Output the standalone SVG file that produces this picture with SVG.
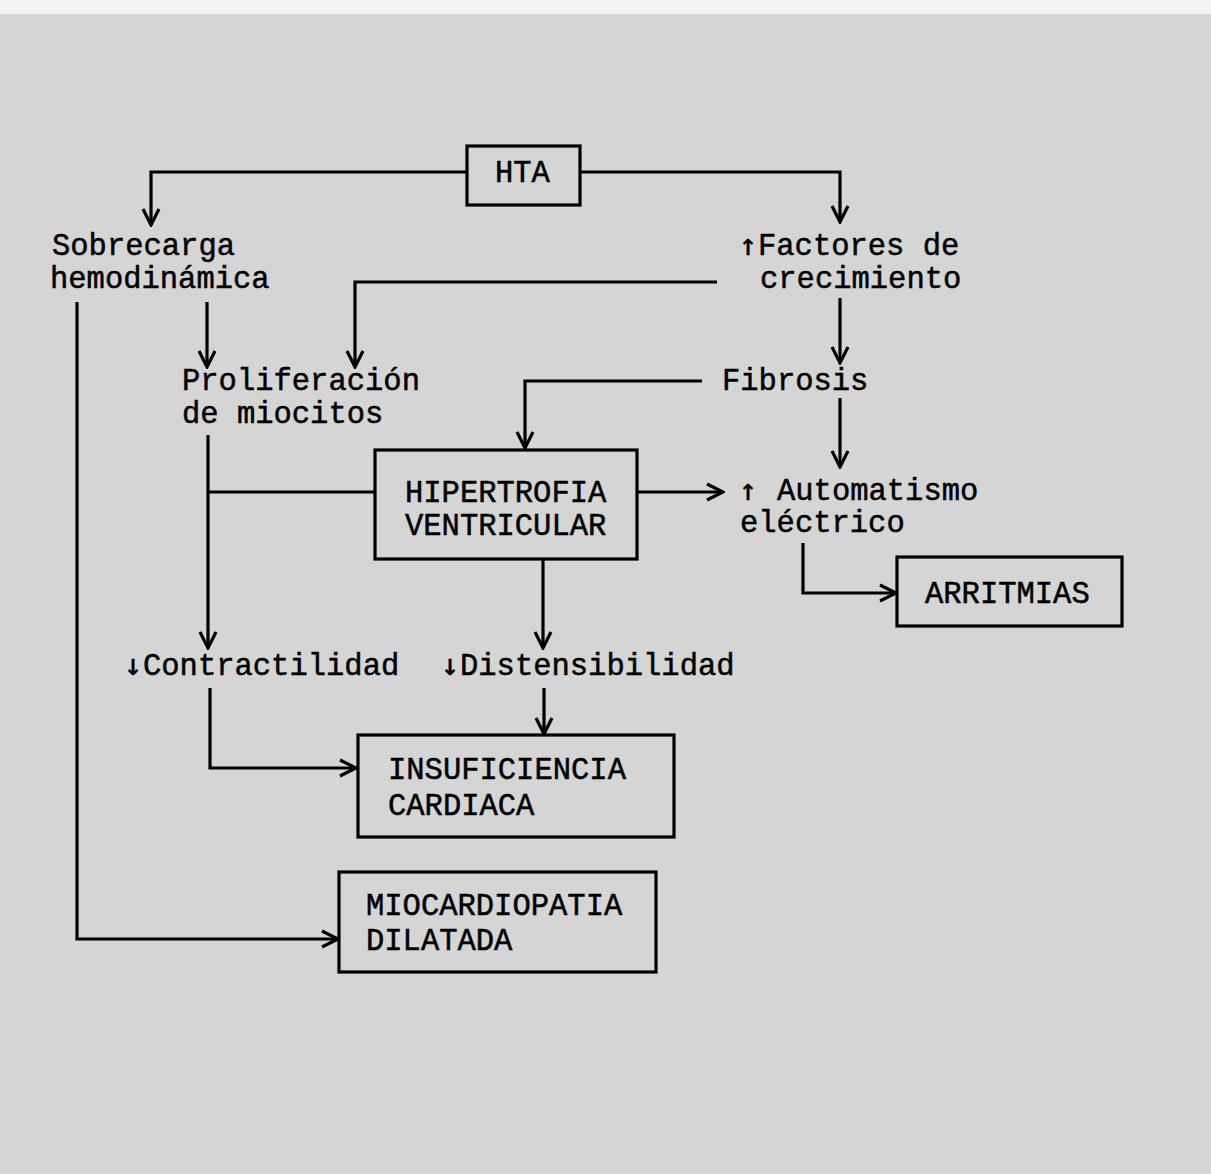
<svg xmlns="http://www.w3.org/2000/svg" width="1211" height="1174" viewBox="0 0 1211 1174">
  <style>
    .bg { fill: #d5d5d5; }
    .box { fill: none; stroke: #000; stroke-width: 3.2; }
    .conn { fill: none; stroke: #000; stroke-width: 3.2; }
    text { font-family: "Liberation Mono", "Courier New", monospace; font-size: 30.5px; fill: #000; stroke: #000; stroke-width: 0.5; }
    .ar { font-family: "DejaVu Sans Mono", monospace; font-size: 30px; }
  </style>
  <defs>
    <marker id="arr" viewBox="0 0 12 12" refX="11" refY="6" markerWidth="6" markerHeight="6" markerUnits="strokeWidth" orient="auto">
      <path d="M1,1 L11,6 L1,11" fill="none" stroke="#000" stroke-width="2" stroke-linejoin="miter"/>
    </marker>
  </defs>
  <rect class="bg" x="0" y="0" width="1211" height="1174"/>
  <rect x="0" y="0" width="1211" height="14" fill="#f2f2f2"/>

  <g id="connectors">
    <path class="conn" d="M467,172 H151 V225" marker-end="url(#arr)"/>
    <path class="conn" d="M580,172 H840 V222" marker-end="url(#arr)"/>
    <path class="conn" d="M207,302 V367" marker-end="url(#arr)"/>
    <path class="conn" d="M717,282 H355 V367" marker-end="url(#arr)"/>
    <path class="conn" d="M840,298 V363" marker-end="url(#arr)"/>
    <path class="conn" d="M702,381 H525 V448" marker-end="url(#arr)"/>
    <path class="conn" d="M840,398 V467" marker-end="url(#arr)"/>
    <path class="conn" d="M208,435 V648" marker-end="url(#arr)"/>
    <path class="conn" d="M208,492 H375"/>
    <path class="conn" d="M637,492 H723" marker-end="url(#arr)"/>
    <path class="conn" d="M543,559 V648" marker-end="url(#arr)"/>
    <path class="conn" d="M803,543 V593 H896" marker-end="url(#arr)"/>
    <path class="conn" d="M210,688 V768 H356" marker-end="url(#arr)"/>
    <path class="conn" d="M544,688 V734" marker-end="url(#arr)"/>
    <path class="conn" d="M77,302 V939 H338" marker-end="url(#arr)"/>
  </g>

  <g id="hta">
    <rect class="box" x="467" y="146" width="113" height="59"/>
    <text x="495" y="182">HTA</text>
  </g>
  <g id="sobrecarga">
    <text x="52" y="255">Sobrecarga</text>
    <text x="50" y="288">hemodinámica</text>
  </g>
  <g id="factores">
    <text y="255"><tspan class="ar" x="739">↑</tspan><tspan x="758">Factores de</tspan></text>
    <text x="760" y="288">crecimiento</text>
  </g>
  <g id="proliferacion">
    <text x="182" y="390">Proliferación</text>
    <text x="182" y="423">de miocitos</text>
  </g>
  <g id="fibrosis">
    <text x="722" y="390">Fibrosis</text>
  </g>
  <g id="hipertrofia">
    <rect class="box" x="375" y="450" width="262" height="109"/>
    <text x="405" y="502">HIPERTROFIA</text>
    <text x="405" y="535">VENTRICULAR</text>
  </g>
  <g id="automatismo">
    <text y="500"><tspan class="ar" x="739">↑</tspan><tspan x="777">Automatismo</tspan></text>
    <text x="740" y="532">eléctrico</text>
  </g>
  <g id="arritmias">
    <rect class="box" x="897" y="557" width="225" height="69"/>
    <text x="925" y="603">ARRITMIAS</text>
  </g>
  <g id="contractilidad">
    <text y="675"><tspan class="ar" x="124">↓</tspan><tspan x="143">Contractilidad</tspan></text>
  </g>
  <g id="distensibilidad">
    <text y="675"><tspan class="ar" x="441">↓</tspan><tspan x="460">Distensibilidad</tspan></text>
  </g>
  <g id="insuficiencia">
    <rect class="box" x="358" y="735" width="316" height="102"/>
    <text x="388" y="779">INSUFICIENCIA</text>
    <text x="388" y="815">CARDIACA</text>
  </g>
  <g id="miocardiopatia">
    <rect class="box" x="339" y="872" width="317" height="100"/>
    <text x="366" y="915">MIOCARDIOPATIA</text>
    <text x="366" y="950">DILATADA</text>
  </g>
</svg>
